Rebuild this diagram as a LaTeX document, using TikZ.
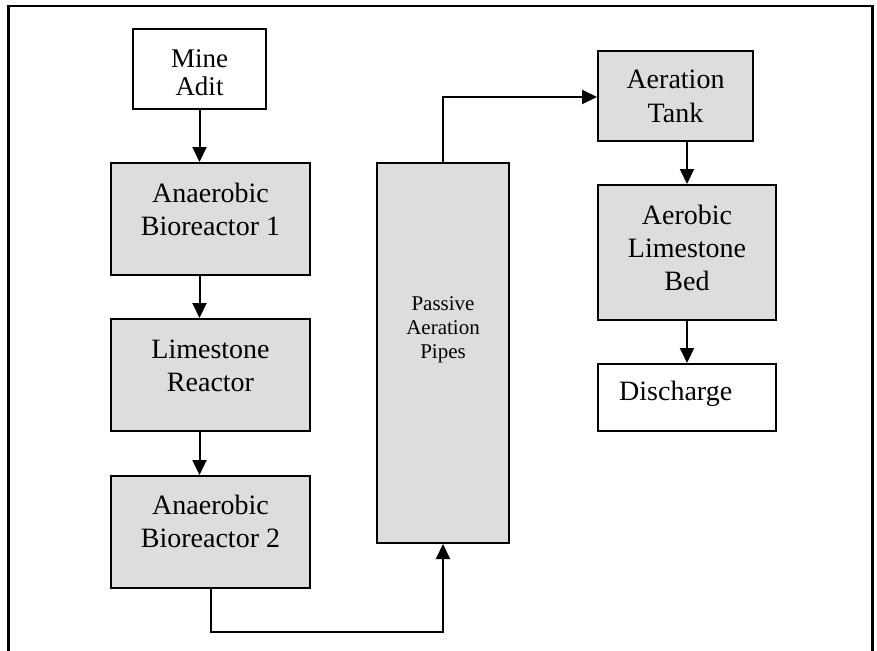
\documentclass[tikz,border=0pt]{standalone}
\usepackage{fontspec}
\setmainfont{Liberation Serif}
\usetikzlibrary{arrows.meta,calc}
\definecolor{boxgray}{RGB}{221,221,221}
\tikzset{
  box/.style={draw, line width=2pt, rectangle, inner sep=0pt},
  graybox/.style={box, fill=boxgray},
  whitebox/.style={box, fill=white},
  bigtxt/.style={inner sep=0pt, align=center, anchor=base, font=\fontsize{28}{33}\selectfont},
  smalltxt/.style={inner sep=0pt, align=center, anchor=base, font=\fontsize{21}{24}\selectfont},
  flow/.style={line width=2pt, -{Triangle[length=15pt,width=14pt]}},
  frame/.style={line width=2.7pt}
}
\begin{document}
\begin{tikzpicture}[x=1pt,y=-1pt]
\useasboundingbox (0,0) rectangle (877,650);
\draw[frame] (8.5,652) -- (8.5,6) -- (872.5,6) -- (872.5,652);

\node[whitebox, minimum width=133pt, minimum height=80pt] (mine) at (199.5,69) {};
\node[graybox, minimum width=199pt, minimum height=112pt] (ana1) at (210.5,219) {};
\node[graybox, minimum width=199pt, minimum height=112pt] (lime) at (210.5,375) {};
\node[graybox, minimum width=199pt, minimum height=112pt] (ana2) at (210.5,532) {};
\node[graybox, minimum width=132pt, minimum height=380pt] (pipes) at (443,353) {};
\node[graybox, minimum width=155pt, minimum height=90pt] (tank) at (675.5,96) {};
\node[graybox, minimum width=178pt, minimum height=135pt] (bed) at (687,252.5) {};
\node[whitebox, minimum width=178pt, minimum height=67pt] (dis) at (687,397.5) {};

\node[bigtxt, font=\fontsize{27}{28}\selectfont] (tmine) at (199.5,95.5) {Mine\\Adit};
\node[bigtxt] (tana1) at (210.5,235) {Anaerobic\\Bioreactor 1};
\node[bigtxt] (tlime) at (210.5,391) {Limestone\\Reactor};
\node[bigtxt] (tana2) at (210.5,547) {Anaerobic\\Bioreactor 2};
\node[smalltxt] (tpipes) at (443,358) {Passive\\Aeration\\Pipes};
\node[bigtxt] (ttank) at (675.5,122) {Aeration\\Tank};
\node[bigtxt] (tbed) at (687,290) {Aerobic\\Limestone\\Bed};
\node[bigtxt, anchor=base west] (tdis) at (619,400) {Discharge};

\draw[flow] (mine.south) -- (mine.south |- ana1.north);
\draw[flow] (ana1.south -| mine.south) -- (lime.north -| mine.south);
\draw[flow] (lime.south -| mine.south) -- (ana2.north -| mine.south);
\coordinate (low) at (0,632);
\draw[flow] (ana2.south) -- (ana2.south |- low) -| (pipes.south);
\coordinate (high) at (0,97);
\draw[flow] (pipes.north) -- (pipes.north |- high) -- (tank.west |- high);
\draw[flow] (tank.south -| bed.north) -- (bed.north);
\draw[flow] (bed.south) -- (dis.north);
\end{tikzpicture}
\end{document}
